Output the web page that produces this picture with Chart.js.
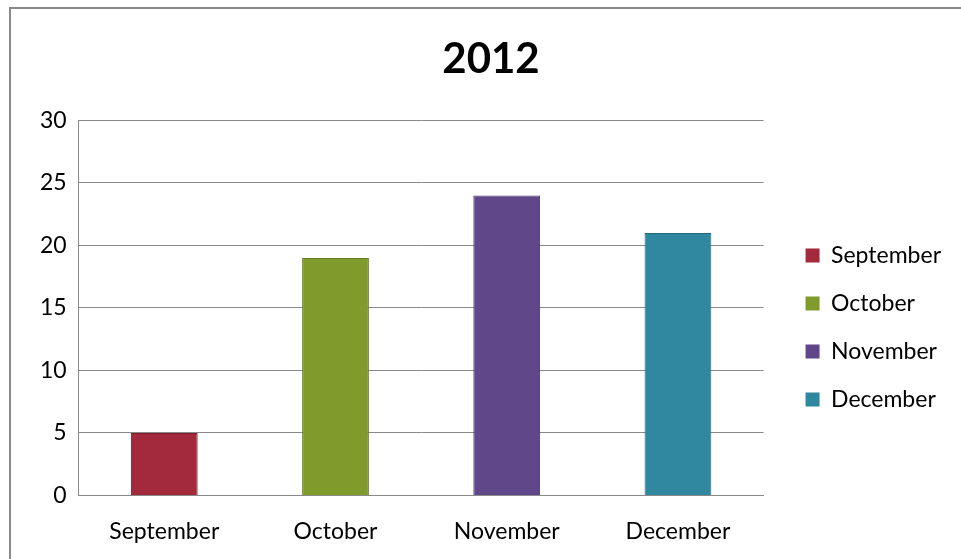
<!DOCTYPE html>
<html>
<head>
<meta charset="utf-8">
<script src="https://cdn.jsdelivr.net/npm/chart.js@4"></script>
<style>
  html, body { margin: 0; background: #fff; overflow: hidden; }
  #wrap { position: relative; width: 961px; height: 559px; overflow: hidden; }
  #frame { position: absolute; left: 9px; top: 7px; width: 960px; height: 560px;
           border-left: 2px solid #8a8a8a; border-top: 2px solid #8a8a8a; box-sizing: border-box; }
  canvas { position: absolute; left: 0; top: 0; }
</style>
</head>
<body>
<div id="wrap">
  <div id="frame"></div>
  <canvas id="myChart" width="961" height="559"></canvas>
</div>
<script>
const months = ["September", "October", "November", "December"];
const values = [5, 19, 24, 21];
const barColors = ["#a3293d", "#7f9b2c", "#60478a", "#2f87a0"];
const edgeColors = ["#7d1f2f", "#637a22", "#46346a", "#236a7e"];
const yTicks = [0, 5, 10, 15, 20, 25, 30];

const ctx = document.getElementById("myChart");

// nudge legend and title a little, like the original
const boxShift = {
    id: "boxShift",
    afterLayout: function (chart) {
        chart.legend.top += 31;
        chart.legend.bottom += 31;
        chart.legend.left += 17;
        chart.legend.right += 17;
        chart.titleBlock.left += 10;
        chart.titleBlock.right += 10;
    }
};

let myChart = new Chart(ctx, {
    type: "bar",
    data: {
        labels: months,
        datasets: [
            {
                label: "2012",
                data: values,
                backgroundColor: barColors,
                borderColor: edgeColors,
                borderWidth: 1,
                categoryPercentage: 1,
                barPercentage: 0.39,
            },
        ],
    },
    plugins: [boxShift],
    options: {
        responsive: false,
        animation: false,
        layout: {
            padding: { left: 28, right: 27, top: 34, bottom: 0 }
        },
        plugins: {
            title: {
                display: true,
                text: "2012",
                color: "#000",
                font: { family: "Lato", size: 42, weight: "bold" },
                padding: { top: 0, bottom: 36 }
            },
            legend: {
                display: true,
                position: "right",
                labels: {
                    color: "#000",
                    font: { family: "Lato", size: 23 },
                    boxWidth: 14,
                    boxHeight: 14,
                    padding: 25,
                    generateLabels: function (chart) {
                        return months.map(function (m, i) {
                            return {
                                text: m,
                                fillStyle: barColors[i],
                                strokeStyle: barColors[i],
                                lineWidth: 0,
                                index: i,
                            };
                        });
                    }
                }
            },
            tooltip: { enabled: false }
        },
        scales: {
            x: {
                grid: { display: false },
                border: { display: true, color: "#8a8a8a", width: 1 },
                ticks: {
                    color: "#000",
                    font: { family: "Lato", size: 23 },
                    padding: 14
                }
            },
            y: {
                min: 0,
                max: 30,
                afterBuildTicks: function (scale) {
                    scale.ticks = yTicks.map(function (v) { return { value: v }; });
                },
                grid: { color: "#8a8a8a", drawTicks: false },
                border: { display: true, color: "#8a8a8a", width: 1 },
                ticks: {
                    color: "#000",
                    font: { family: "Lato", size: 23 },
                    padding: 12
                }
            }
        }
    }
});
</script>
</body>
</html>
